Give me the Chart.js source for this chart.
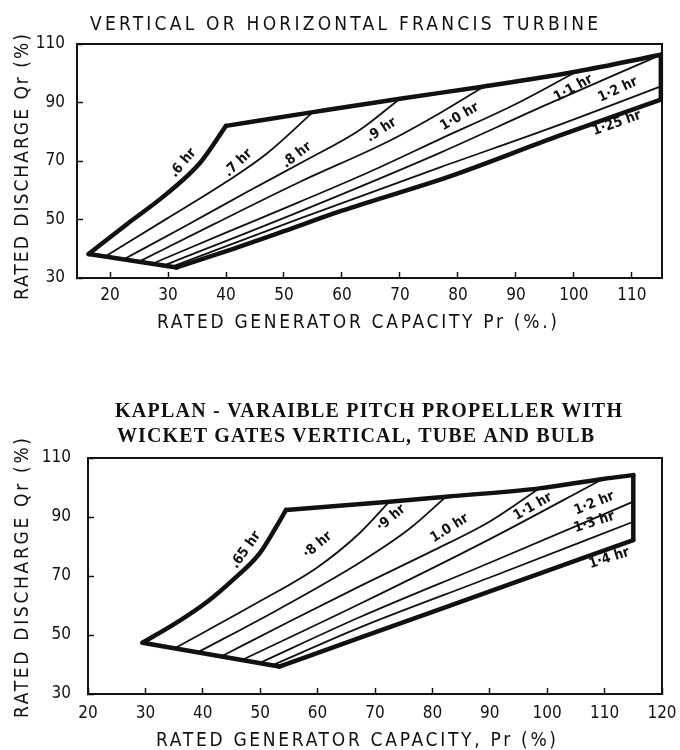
<!DOCTYPE html>
<html>
<head>
<meta charset="utf-8">
<script src="https://cdn.jsdelivr.net/npm/chart.js@4.4.1/dist/chart.umd.min.js"></script>
<style>
  body { margin: 0; background: #fff; }
  #wrap { position: relative; width: 680px; height: 750px; }
  canvas { position: absolute; left: 0; }
  #francis { top: 0; }
  #kaplan { top: 345px; }
</style>
</head>
<body>
<div id="wrap">
  <canvas id="francis" width="680" height="345"></canvas>
  <canvas id="kaplan" width="680" height="405"></canvas>
</div>
<script>
// ---- Francis turbine (top chart), [capacity %, discharge %] ----
var francisXTicks = [20, 30, 40, 50, 60, 70, 80, 90, 100, 110];
var francisYTicks = [30, 50, 70, 90, 110];
var francis06 = [[16.3, 38.2], [22.9, 48.4], [29.6, 58.5], [35.5, 69.3], [40, 82]];
var francisTop = [[40, 82], [55, 86.7], [70, 91.3], [84.5, 95.5], [100.5, 100.6], [115, 106.3]];
var francisRight = [[115, 106.3], [115, 91]];
var francisBase = [[16.3, 38.2], [31.5, 33.6]];
var francis07 = [[19.1, 37.3], [29.8, 50.3], [40, 62.8], [47, 72.5], [55, 86.7]];
var francis08 = [[22.3, 36.3], [33, 47.8], [44, 59.8], [54, 70.5], [63, 80.5], [70, 91.3]];
var francis09 = [[24.9, 35.5], [38, 48.5], [52.8, 62.9], [68.3, 77], [77, 86.5], [84.5, 95.5]];
var francis10 = [[27.2, 34.8], [40, 45.5], [52.8, 56.1], [65, 66.5], [76.9, 77.5], [90, 89.5], [100.5, 100.6]];
var francis11 = [[29.2, 34.2], [52.8, 52.8], [76.9, 72.8], [95, 89], [115, 106.3]];
var francis12 = [[30.6, 33.8], [52.8, 50.4], [76.9, 67.8], [97, 82], [115, 95.5]];
var francis125 = [[31.5, 33.6], [41, 39.8], [50, 46], [60, 53], [79, 65], [97, 78.3], [115, 91]];

// ---- Kaplan turbine (bottom chart) ----
var kaplanXTicks = [20, 30, 40, 50, 60, 70, 80, 90, 100, 110, 120];
var kaplanYTicks = [30, 50, 70, 90, 110];
var kaplan065 = [[29.5, 47.4], [35.3, 54], [40.6, 61], [45.2, 68.6], [49.9, 77.7], [52.8, 86.7], [54.5, 92.4]];
var kaplanTop = [[54.5, 92.4], [72.5, 95.2], [82.4, 96.9], [98.6, 99.7], [109.7, 102.9], [115, 104.2]];
var kaplanRight = [[115, 104.2], [115, 82.2]];
var kaplanBase = [[29.5, 47.4], [53.3, 39.3]];
var kaplan08 = [[35.1, 45.5], [50, 61.5], [60, 73], [67.3, 84.5], [72.5, 95.2]];
var kaplan09 = [[39.1, 44.1], [53, 58.5], [67.3, 74.5], [76, 86], [82.4, 96.9]];
var kaplan10 = [[43.2, 42.7], [55, 54.5], [67.3, 66.5], [80, 78.5], [90, 88.5], [98.6, 99.7]];
var kaplan11 = [[46.8, 41.5], [67.3, 60.5], [90, 82.5], [109.7, 102.9]];
var kaplan12 = [[49.9, 40.5], [67.3, 56], [90, 74.5], [115, 95.2]];
var kaplan13 = [[52.1, 39.7], [67.3, 52.5], [90, 69.5], [115, 88.4]];
var kaplan14 = [[53.3, 39.3], [67.3, 49], [90, 64.8], [115, 82.2]];

var ink = '#111';
var sansC = '"DejaVu Sans Condensed", "DejaVu Sans", sans-serif';

function curve(data, width, straight) {
  return {
    data: data,
    showLine: true,
    borderColor: ink,
    borderWidth: width,
    pointRadius: 0,
    cubicInterpolationMode: straight ? 'default' : 'monotone',
    tension: 0,
    clip: false,
    borderCapStyle: 'round',
    borderJoinStyle: 'round'
  };
}

function drawSpaced(ctx, t) {
  ctx.save();
  ctx.font = t.font;
  ctx.fillStyle = ink;
  ctx.letterSpacing = '0px';
  var w = ctx.measureText(t.text).width;
  ctx.letterSpacing = ((t.width - w) / (t.text.length - 1)) + 'px';
  ctx.translate(t.x, t.y);
  if (t.angle) ctx.rotate(t.angle * Math.PI / 180);
  ctx.textAlign = 'left';
  ctx.textBaseline = 'alphabetic';
  ctx.fillText(t.text, 0, 0);
  ctx.restore();
}

// frame, curve labels and titles
var sketch = {
  id: 'sketch',
  afterDraw: function (chart, args, o) {
    var ctx = chart.ctx, a = chart.chartArea;
    var xs = chart.scales.x, ys = chart.scales.y;
    ctx.save();
    ctx.strokeStyle = ink;
    ctx.lineWidth = 2;
    ctx.strokeRect(a.left, a.top, a.right - a.left, a.bottom - a.top);
    ctx.fillStyle = ink;
    ctx.font = 'bold 14px ' + sansC;
    ctx.textAlign = 'center';
    ctx.textBaseline = 'middle';
    o.labels.forEach(function (l) {
      ctx.save();
      ctx.translate(xs.getPixelForValue(l.at[0]), ys.getPixelForValue(l.at[1]));
      ctx.rotate(l.angle * Math.PI / 180);
      ctx.fillText(l.text, 0, 0);
      ctx.restore();
    });
    ctx.restore();
    o.texts.forEach(function (t) { drawSpaced(ctx, t); });
  }
};

function axes(xmin, xmax, xticks, yticks, yWidth, xHeight, yPad, xPad) {
  var tickFont = { family: sansC, size: 17 };
  return {
    x: {
      type: 'linear', min: xmin, max: xmax,
      afterBuildTicks: function (s) { s.ticks = xticks.map(function (v) { return { value: v }; }); },
      afterFit: function (s) { s.height = xHeight; s.paddingLeft = 0; s.paddingRight = 0; },
      grid: { drawOnChartArea: false, tickLength: -6, tickWidth: 1.5, tickColor: ink },
      border: { color: ink, width: 2 },
      ticks: { padding: xPad, color: ink, font: tickFont, maxRotation: 0, autoSkip: false }
    },
    y: {
      type: 'linear', min: 30, max: 110,
      afterBuildTicks: function (s) { s.ticks = yticks.map(function (v) { return { value: v }; }); },
      afterFit: function (s) { s.width = yWidth; s.paddingTop = 0; s.paddingBottom = 0; },
      grid: { drawOnChartArea: false, tickLength: -6, tickWidth: 1.5, tickColor: ink },
      border: { color: ink, width: 2 },
      ticks: { padding: yPad, color: ink, font: tickFont, autoSkip: false }
    }
  };
}

new Chart('francis', {
  type: 'scatter',
  data: {
    datasets: [
      curve(francis06, 4.5), curve(francisTop, 4.5), curve(francisRight, 4.5, true),
      curve(francisBase, 4.5, true), curve(francis125, 4.5),
      curve(francis07, 1.8), curve(francis08, 1.8), curve(francis09, 1.8),
      curve(francis10, 1.8), curve(francis11, 1.8), curve(francis12, 1.8)
    ]
  },
  options: {
    responsive: false,
    animation: false,
    layout: { padding: { top: 44, right: 18, left: 0, bottom: 0 } },
    scales: axes(14.3, 115.2, francisXTicks, francisYTicks, 77, 67, 18, 13),
    plugins: {
      legend: { display: false },
      tooltip: { enabled: false },
      sketch: {
        labels: [
          { text: '.6 hr', at: [32.6, 69.3], angle: -50 },
          { text: '.7 hr', at: [42.1, 69.3], angle: -44 },
          { text: '.8 hr', at: [52.2, 72], angle: -38 },
          { text: '.9 hr', at: [66.8, 80.6], angle: -33 },
          { text: '1·0 hr', at: [80.3, 85.1], angle: -30 },
          { text: '1·1 hr', at: [99.9, 94.8], angle: -29 },
          { text: '1·2 hr', at: [107.6, 94.3], angle: -25 },
          { text: '1·25 hr', at: [107.4, 82.9], angle: -20 }
        ],
        texts: [
          { text: 'VERTICAL OR HORIZONTAL FRANCIS TURBINE', x: 90, y: 30, width: 508, font: '19px ' + sansC },
          { text: 'RATED GENERATOR CAPACITY Pr (%.)', x: 157, y: 328, width: 400, font: '19px ' + sansC },
          { text: 'RATED DISCHARGE Qr (%)', x: 28, y: 300, width: 266, font: '19px ' + sansC, angle: -90 }
        ]
      }
    }
  },
  plugins: [sketch]
});

new Chart('kaplan', {
  type: 'scatter',
  data: {
    datasets: [
      curve(kaplan065, 4.5), curve(kaplanTop, 4.5), curve(kaplanRight, 4.5, true),
      curve(kaplanBase, 4.5, true), curve(kaplan14, 4.5),
      curve(kaplan08, 1.8), curve(kaplan09, 1.8), curve(kaplan10, 1.8),
      curve(kaplan11, 1.8), curve(kaplan12, 1.8), curve(kaplan13, 1.8)
    ]
  },
  options: {
    responsive: false,
    animation: false,
    layout: { padding: { top: 113, right: 18, left: 0, bottom: 0 } },
    scales: axes(20, 120, kaplanXTicks, kaplanYTicks, 88, 56, 23, 15),
    plugins: {
      legend: { display: false },
      tooltip: { enabled: false },
      sketch: {
        labels: [
          { text: '.65 hr', at: [47.5, 78.8], angle: -55 },
          { text: '·8 hr', at: [60, 80.5], angle: -40 },
          { text: '·9 hr', at: [72.8, 89.6], angle: -40 },
          { text: '1.0 hr', at: [83, 86.2], angle: -32 },
          { text: '1·1 hr', at: [97.5, 93.5], angle: -30 },
          { text: '1·2 hr', at: [108.2, 94.6], angle: -22 },
          { text: '1·3 hr', at: [108.2, 88.2], angle: -18 },
          { text: '1·4 hr', at: [110.8, 76], angle: -18 }
        ],
        texts: [
          { text: 'KAPLAN - VARAIBLE PITCH PROPELLER WITH', x: 115, y: 72, width: 507, font: 'bold 20px "Liberation Serif", "Times New Roman", serif' },
          { text: 'WICKET GATES VERTICAL, TUBE AND BULB', x: 117, y: 97, width: 477, font: 'bold 20px "Liberation Serif", "Times New Roman", serif' },
          { text: 'RATED GENERATOR CAPACITY, Pr (%)', x: 156, y: 401, width: 400, font: '19px ' + sansC },
          { text: 'RATED DISCHARGE Qr (%)', x: 28, y: 373, width: 280, font: '19px ' + sansC, angle: -90 }
        ]
      }
    }
  },
  plugins: [sketch]
});
</script>
</body>
</html>
